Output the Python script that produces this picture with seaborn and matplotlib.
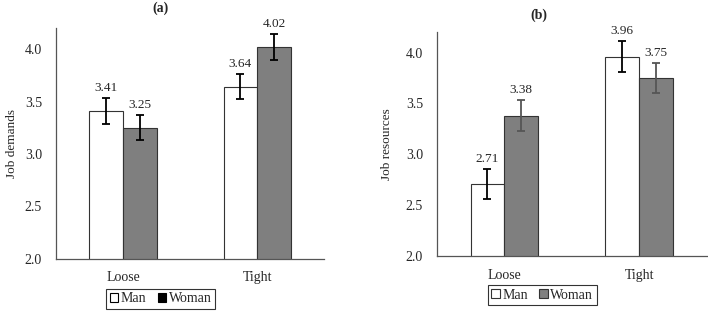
import matplotlib
matplotlib.use('Agg')
import matplotlib.pyplot as plt
from matplotlib.patches import Patch
import pandas as pd
import seaborn as sns

sns.set_style('white')
plt.rcParams['font.family'] = ['Liberation Serif', 'DejaVu Serif']

# 数据
tightness = ['Loose', 'Tight']
genders = ['Man', 'Woman']
demands_man = [3.41, 3.64]
demands_woman = [3.25, 4.02]
demands_err_man = [0.125, 0.12]
demands_err_woman = [0.12, 0.125]
resources_man = [2.71, 3.96]
resources_woman = [3.38, 3.75]
resources_err_man = [0.15, 0.15]
resources_err_woman = [0.15, 0.15]
yticks = [2.0, 2.5, 3.0, 3.5, 4.0]

fig = plt.figure(figsize=(7.08, 3.12), dpi=100)
ax_a = fig.add_axes([0.079, 0.170, 0.379, 0.740])
ax_b = fig.add_axes([0.617, 0.179, 0.381, 0.718])

palette = {'Man': 'white', 'Woman': '#7f7f7f'}


def draw(ax, man, woman, err_man, err_woman, ylabel, woman_err_color):
    df = pd.DataFrame({
        'tight': tightness * 2,
        'gender': ['Man'] * 2 + ['Woman'] * 2,
        'value': man + woman,
    })
    errs = err_man + err_woman
    sns.barplot(data=df, x='tight', y='value', hue='gender', hue_order=genders,
                palette=palette, width=0.5, errorbar=None, edgecolor='#333333',
                linewidth=0.8, legend=False, ax=ax)
    # 误差线和数值标签
    n = 0
    for bar in ax.patches:
        if bar.get_height() == 0:
            continue
        x = bar.get_x() + bar.get_width() / 2
        h = bar.get_height()
        c = 'black' if n < 2 else woman_err_color
        ax.errorbar(x, h, yerr=errs[n], color=c, capsize=2.8, elinewidth=1.3,
                    capthick=1.3)
        ax.text(x, h + errs[n] + 0.04, '%.2f' % h, ha='center', va='bottom',
                fontsize=9.5)
        n += 1
    ax.set_ylim(2.0, 4.2)
    ax.set_xlim(-0.5, 1.5)
    ax.set_yticks(yticks)
    ax.set_yticklabels(['%.1f' % t for t in yticks], fontsize=10)
    ax.tick_params(axis='both', length=0, labelsize=10)
    ax.tick_params(axis='y', pad=10)
    ax.tick_params(axis='x', pad=9)
    ax.set_xlabel('')
    ax.set_ylabel(ylabel, fontsize=9.5)
    for s in ['top', 'right']:
        ax.spines[s].set_visible(False)
    for s in ['left', 'bottom']:
        ax.spines[s].set_color('#555555')
        ax.spines[s].set_linewidth(0.9)


draw(ax_a, demands_man, demands_woman, demands_err_man, demands_err_woman,
     'Job demands', 'black')
draw(ax_b, resources_man, resources_woman, resources_err_man, resources_err_woman,
     'Job resources', '#555555')
ax_a.yaxis.set_label_coords(-0.142, 0.5)
ax_b.yaxis.set_label_coords(-0.163, 0.5)

fig.text(0.226, 0.972, '(a)', ha='center', va='center', fontsize=10, fontweight='bold')
fig.text(0.761, 0.950, '(b)', ha='center', va='center', fontsize=10, fontweight='bold')

# 图例
handles_a = [Patch(facecolor='white', edgecolor='black', linewidth=0.8),
             Patch(facecolor='black', edgecolor='black', linewidth=0.8)]
handles_b = [Patch(facecolor='white', edgecolor='#333333', linewidth=0.8),
             Patch(facecolor='#7f7f7f', edgecolor='#333333', linewidth=0.8)]
for handles, pos in [(handles_a, (0.227, 0.042)), (handles_b, (0.766, 0.054))]:
    leg = fig.legend(handles, genders, loc='center', bbox_to_anchor=pos, ncol=2,
                     fontsize=10, frameon=True, fancybox=False, handlelength=0.6,
                     handleheight=0.6, handletextpad=0.2, columnspacing=0.8,
                     borderpad=0.25, borderaxespad=0)
    leg.get_frame().set_edgecolor('black')
    leg.get_frame().set_linewidth(0.8)

fig.savefig('out.png', dpi=100)
